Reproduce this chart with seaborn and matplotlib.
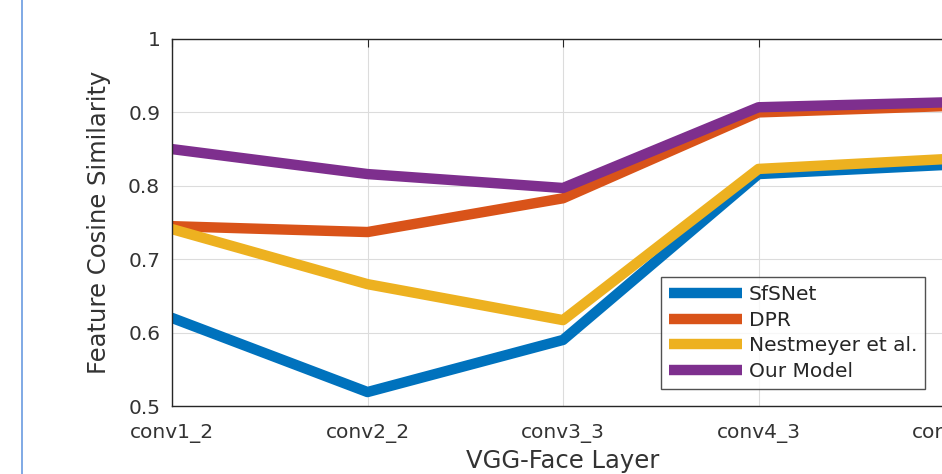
import pandas as pd
import matplotlib.pyplot as plt
import seaborn as sns
from matplotlib.lines import Line2D

layers = ['conv1_2', 'conv2_2', 'conv3_3', 'conv4_3', 'conv5_3']
sfsnet = [0.620, 0.519, 0.590, 0.816, 0.829]
dpr = [0.745, 0.737, 0.783, 0.900, 0.909]
nestmeyer = [0.741, 0.666, 0.617, 0.823, 0.837]
our_model = [0.850, 0.816, 0.797, 0.907, 0.914]

methods = ['SfSNet', 'DPR', 'Nestmeyer et al.', 'Our Model']
colors = ['#0072BD', '#D95319', '#EDB120', '#7E2F8E']

rows = []
for name, vals in zip(methods, [sfsnet, dpr, nestmeyer, our_model]):
    for i, v in enumerate(vals):
        rows.append({'layer': i + 1, 'sim': v, 'method': name})
df = pd.DataFrame(rows)

sns.set_style('white')
plt.rcParams['font.family'] = ['DejaVu Sans']

fig = plt.figure(figsize=(9.42, 4.74), dpi=100)
ax = fig.add_axes([172 / 942, 68 / 474, 782 / 942, 367 / 474])

sns.lineplot(data=df, x='layer', y='sim', hue='method', hue_order=methods,
             palette=colors, linewidth=7.5, ax=ax, legend=False)

ax.set_xlim(1, 5)
ax.set_ylim(0.5, 1)
ax.set_xticks(range(1, 6))
ax.set_xticklabels(layers)
ax.set_yticks([0.5, 0.6, 0.7, 0.8, 0.9, 1])
ax.set_yticklabels(['0.5', '0.6', '0.7', '0.8', '0.9', '1'])
ax.grid(True, color='#dcdcdc', linewidth=0.8)
ax.set_axisbelow(True)
ax.tick_params(direction='in', length=6, width=0.8, color='#262626',
               labelsize=14.5, labelcolor='#333333', top=True, right=True)
ax.tick_params(axis='x', pad=13)
ax.tick_params(axis='y', pad=8.5)
for s in ax.spines.values():
    s.set_color('#262626')
    s.set_linewidth(1.0)

ax.set_xlabel('VGG-Face Layer', fontsize=17.5, color='#333333', labelpad=4)
ax.set_ylabel('Feature Cosine Similarity', fontsize=17.5, color='#333333', labelpad=12)

handles = [Line2D([0], [0], color=c, linewidth=7.5, solid_capstyle='butt') for c in colors]
leg = fig.legend(handles, methods, loc='upper left',
                 bbox_to_anchor=(661 / 942, 1 - 277 / 474), borderaxespad=0,
                 fontsize=14.5, frameon=True, fancybox=False, handlelength=3.6,
                 handletextpad=0.35, labelspacing=0.33, borderpad=0.4)
leg.get_frame().set_edgecolor('#262626')
leg.get_frame().set_linewidth(1.0)
for t in leg.get_texts():
    t.set_color('#262626')

# page border line on the left
fig.add_artist(Line2D([22 / 942, 22 / 942], [0, 1], transform=fig.transFigure,
                      color='#6a9be0', linewidth=1.2))

fig.savefig('out.png', dpi=100)
